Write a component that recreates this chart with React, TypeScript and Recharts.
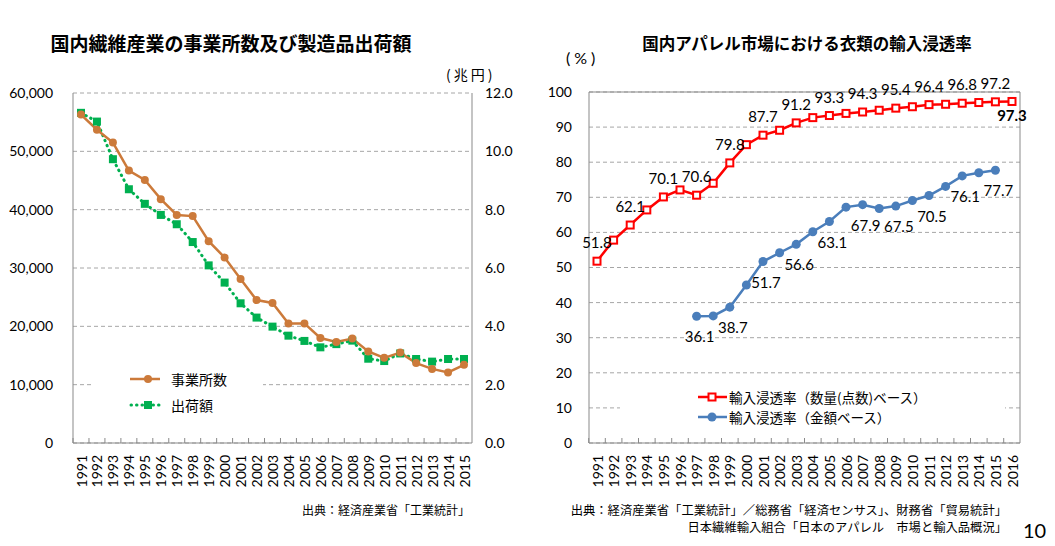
import React from 'react';
import { LineChart, Line, XAxis, YAxis, CartesianGrid, LabelList, ReferenceLine } from 'recharts';

// left chart: 国内繊維産業の事業所数及び製造品出荷額
const leftYears = [
  '1991', '1992', '1993', '1994', '1995', '1996', '1997', '1998', '1999', '2000', '2001', '2002', '2003',
  '2004', '2005', '2006', '2007', '2008', '2009', '2010', '2011', '2012', '2013', '2014', '2015',
];
const officeCounts = [
  56300, 53700, 51500, 46700, 45100, 41800, 39100, 38900, 34600, 31800, 28100, 24500, 24000,
  20500, 20500, 18000, 17300, 17900, 15700, 14600, 15500, 13700, 12700, 12100, 13400,
];
const shipmentValues = [
  11.32, 11.02, 9.73, 8.7, 8.2, 7.82, 7.5, 6.89, 6.09, 5.5, 4.79, 4.3, 3.99,
  3.68, 3.5, 3.28, 3.39, 3.51, 2.89, 2.81, 3.07, 2.88, 2.79, 2.88, 2.88,
];
const leftNames = ['事業所数', '出荷額'];
const officeTicks = [0, 10000, 20000, 30000, 40000, 50000, 60000];
const shipmentTicks = [0, 2, 4, 6, 8, 10, 12];

// right chart: 国内アパレル市場における衣類の輸入浸透率
const rightYears = [
  '1991', '1992', '1993', '1994', '1995', '1996', '1997', '1998', '1999', '2000', '2001', '2002', '2003',
  '2004', '2005', '2006', '2007', '2008', '2009', '2010', '2011', '2012', '2013', '2014', '2015', '2016',
];
const qtyRate = [
  51.8, 57.8, 62.1, 66.4, 70.1, 72.1, 70.6, 74.0, 79.8, 85.0, 87.7, 89.1, 91.2,
  92.7, 93.3, 93.9, 94.3, 94.8, 95.4, 95.8, 96.4, 96.5, 96.8, 97.0, 97.2, 97.3,
];
const valueRate = [
  null, null, null, null, null, null, 36.1, 36.2, 38.7, 45.0, 51.7, 54.2, 56.6,
  60.2, 63.1, 67.2, 67.9, 66.8, 67.5, 69.1, 70.5, 73.1, 76.1, 77.0, 77.7, null,
];
const qtyLabelYears = ['1991', '1993', '1995', '1997', '1999', '2001', '2003', '2005', '2007', '2009', '2011', '2013', '2015', '2016'];
const valueLabelYears = ['1997', '1999', '2001', '2003', '2005', '2007', '2009', '2011', '2013', '2015'];
const rightNames = ['輸入浸透率（数量(点数)ベース）', '輸入浸透率（金額ベース）'];
const rateTicks = [0, 10, 20, 30, 40, 50, 60, 70, 80, 90, 100];

const leftData = leftYears.map((year, i) => ({ year, offices: officeCounts[i], shipments: shipmentValues[i] }));
const rightData = rightYears.map((year, i) => ({ year, qty: qtyRate[i], value: valueRate[i] }));

const NUM_FONT = "Lato, 'Noto Sans CJK JP', sans-serif";
const JP_FONT = "'Noto Sans CJK JP', sans-serif";
const AXIS = '#898989';
const GRID = '#a6a6a6';
const ORANGE = '#cc7a3a';
const GREEN = '#00b050';
const RED = '#ff0000';
const BLUE = '#4a7ebb';
const AXIS_Y = 443;

function yearTick(step: number) {
  return (p: any) => {
    const { x, y, payload } = p;
    const bx = x - step / 2;
    return (
      <g>
        <line x1={bx} x2={bx} y1={AXIS_Y} y2={AXIS_Y - 5} stroke={AXIS} strokeWidth={1} />
        <text
          transform={`translate(${x},${y}) rotate(-90)`}
          textAnchor="end"
          dominantBaseline="central"
          fontSize={14}
          fontFamily={NUM_FONT}
          fill="#000"
        >
          {payload.value}
        </text>
      </g>
    );
  };
}

const squareDot = (size: number, fill: string, stroke: string, sw: number) => (p: any) => {
  if (p.cx == null || p.cy == null) return <g key={`sq-${p.index}`} />;
  return (
    <rect
      key={`sq-${p.index}`}
      x={p.cx - size / 2}
      y={p.cy - size / 2}
      width={size}
      height={size}
      fill={fill}
      stroke={stroke}
      strokeWidth={sw}
    />
  );
};

const qtyLabel = (p: any) => {
  const year = rightYears[p.index];
  if (!qtyLabelYears.includes(year) || p.value == null) return null;
  const last = p.index === rightYears.length - 1;
  return (
    <text
      key={`ql-${p.index}`}
      x={p.x}
      y={last ? p.y + 20 : p.y - 13}
      textAnchor="middle"
      fontSize={15}
      fontWeight={last ? 700 : 400}
      fontFamily={NUM_FONT}
      fill="#000"
    >
      {Number(p.value).toFixed(1)}
    </text>
  );
};

const valueLabel = (p: any) => {
  const year = rightYears[p.index];
  if (!valueLabelYears.includes(year) || p.value == null) return null;
  return (
    <text
      key={`vl-${p.index}`}
      x={p.x + 3}
      y={p.y + 26}
      textAnchor="middle"
      fontSize={15}
      fontFamily={NUM_FONT}
      fill="#000"
    >
      {Number(p.value).toFixed(1)}
    </text>
  );
};

const tickStyle = { fontSize: 14, fill: '#000', fontFamily: NUM_FONT };

function LeftChart() {
  return (
    <LineChart width={530} height={546} data={leftData} margin={{ top: 93, right: 0, left: 0, bottom: 43 }}>
      <CartesianGrid vertical={false} stroke={GRID} strokeDasharray="4 3" />
      <XAxis
        dataKey="year"
        interval={0}
        height={60}
        padding={{ left: 8, right: 8 }}
        axisLine={{ stroke: AXIS }}
        tickLine={false}
        tickMargin={6}
        tick={yearTick(15.96)}
      />
      <YAxis
        width={73}
        domain={[0, 60000]}
        ticks={officeTicks}
        tickFormatter={(v) => v.toLocaleString('en-US')}
        axisLine={{ stroke: AXIS }}
        tickLine={false}
        tickMargin={14}
        tick={tickStyle}
      />
      <YAxis
        yAxisId="right"
        orientation="right"
        width={58}
        domain={[0, 12]}
        ticks={shipmentTicks}
        tickFormatter={(v) => v.toFixed(1)}
        axisLine={{ stroke: AXIS }}
        tickLine={false}
        tickMargin={7}
        tick={tickStyle}
      />
      <Line
        dataKey="shipments"
        name={leftNames[1]}
        yAxisId="right"
        type="linear"
        stroke={GREEN}
        strokeWidth={3}
        strokeDasharray="0.5 5"
        strokeLinecap="round"
        dot={squareDot(8, GREEN, GREEN, 0)}
        isAnimationActive={false}
      />
      <Line
        dataKey="offices"
        name={leftNames[0]}
        type="linear"
        stroke={ORANGE}
        strokeWidth={2.5}
        dot={{ r: 4, fill: ORANGE, stroke: ORANGE, strokeWidth: 0 }}
        isAnimationActive={false}
      />
    </LineChart>
  );
}

function RightChart() {
  return (
    <LineChart width={525} height={546} data={rightData} margin={{ top: 92, right: 34, left: 0, bottom: 43 }}>
      <CartesianGrid vertical={false} stroke={GRID} strokeDasharray="4 3" />
      <XAxis
        dataKey="year"
        interval={0}
        height={60}
        padding={{ left: 8, right: 8 }}
        axisLine={{ stroke: AXIS }}
        tickLine={false}
        tickMargin={6}
        tick={yearTick(16.58)}
      />
      <YAxis
        width={59}
        domain={[0, 100]}
        ticks={rateTicks}
        axisLine={{ stroke: AXIS }}
        tickLine={false}
        tickMargin={11}
        tick={tickStyle}
      />
      <YAxis yAxisId="r" orientation="right" width={1} domain={[0, 100]} tick={false} tickLine={false} axisLine={{ stroke: AXIS }} />
      <ReferenceLine y={100} stroke={AXIS} />
      <Line
        dataKey="value"
        name={rightNames[1]}
        type="linear"
        stroke={BLUE}
        strokeWidth={2.5}
        dot={{ r: 4.5, fill: BLUE, stroke: BLUE, strokeWidth: 0 }}
        isAnimationActive={false}
      >
        <LabelList dataKey="value" content={valueLabel} />
      </Line>
      <Line
        dataKey="qty"
        name={rightNames[0]}
        type="linear"
        stroke={RED}
        strokeWidth={2.5}
        dot={squareDot(7, '#fff', RED, 2)}
        isAnimationActive={false}
      >
        <LabelList dataKey="qty" content={qtyLabel} />
      </Line>
    </LineChart>
  );
}

const abs = (left: number, top: number, extra: React.CSSProperties = {}): React.CSSProperties => ({
  position: 'absolute', left, top, ...extra,
});

export default function App() {
  return (
    <div style={{ position: 'absolute', left: 0, top: 0, width: 1055, height: 546, background: '#fff', overflow: 'hidden' }}>
      <div style={abs(0, 0)}><LeftChart /></div>
      <div style={abs(530, 0)}><RightChart /></div>

      <div style={abs(0, 30, { width: 462, textAlign: 'center', fontFamily: JP_FONT, fontWeight: 700, fontSize: 19, lineHeight: '26px' })}>
        国内繊維産業の事業所数及び製造品出荷額
      </div>
      <div style={abs(600, 31, { width: 414, textAlign: 'center', fontFamily: JP_FONT, fontWeight: 700, fontSize: 16.5, lineHeight: '24px' })}>
        国内アパレル市場における衣類の輸入浸透率
      </div>
      <div style={abs(446, 64, { fontFamily: JP_FONT, fontSize: 14, lineHeight: '20px', letterSpacing: 3 })}>(兆円)</div>
      <div style={abs(566, 47, { fontFamily: NUM_FONT, fontSize: 16, lineHeight: '22px', letterSpacing: 4 })}>(%)</div>

      {/* left legend */}
      <svg style={abs(92, 364)} width={171} height={56}>
        <rect x={0} y={0} width={171} height={56} fill="#fff" />
        <line x1={38} x2={68} y1={15} y2={15} stroke={ORANGE} strokeWidth={2.5} />
        <circle cx={56} cy={15} r={4} fill={ORANGE} />
        <text x={79} y={15} dominantBaseline="central" fontFamily={JP_FONT} fontSize={14}>{leftNames[0]}</text>
        <line x1={39} x2={68} y1={41} y2={41} stroke={GREEN} strokeWidth={3} strokeDasharray="0.5 5" strokeLinecap="round" />
        <rect x={52} y={37} width={8} height={8} fill={GREEN} />
        <text x={79} y={41} dominantBaseline="central" fontFamily={JP_FONT} fontSize={14}>{leftNames[1]}</text>
      </svg>

      {/* right legend */}
      <svg style={abs(620, 385)} width={385} height={43}>
        <rect x={0} y={0} width={385} height={43} fill="#fff" />
        <line x1={78} x2={107} y1={12} y2={12} stroke={RED} strokeWidth={2.5} />
        <rect x={88.5} y={8.5} width={7} height={7} fill="#fff" stroke={RED} strokeWidth={2} />
        <text x={109} y={12} dominantBaseline="central" fontFamily={JP_FONT} fontSize={13.5}>{rightNames[0]}</text>
        <line x1={78} x2={107} y1={32} y2={32} stroke={BLUE} strokeWidth={2.5} />
        <circle cx={92} cy={32} r={4.5} fill={BLUE} />
        <text x={109} y={32} dominantBaseline="central" fontFamily={JP_FONT} fontSize={13.5}>{rightNames[1]}</text>
      </svg>

      <div style={abs(170, 501, { width: 300, textAlign: 'right', fontFamily: JP_FONT, fontSize: 12, lineHeight: '18px' })}>
        出典：経済産業省「工業統計」
      </div>
      <div style={abs(507, 502, { width: 500, textAlign: 'right', fontFamily: JP_FONT, fontSize: 12.3, lineHeight: '16.5px' })}>
        出典：経済産業省「工業統計」／総務省「経済センサス」、財務省「貿易統計」<br />
        日本繊維輸入組合「日本のアパレル　市場と輸入品概況」
      </div>
      <div style={abs(1023, 518, { fontFamily: NUM_FONT, fontSize: 20, lineHeight: '24px' })}>10</div>
    </div>
  );
}
